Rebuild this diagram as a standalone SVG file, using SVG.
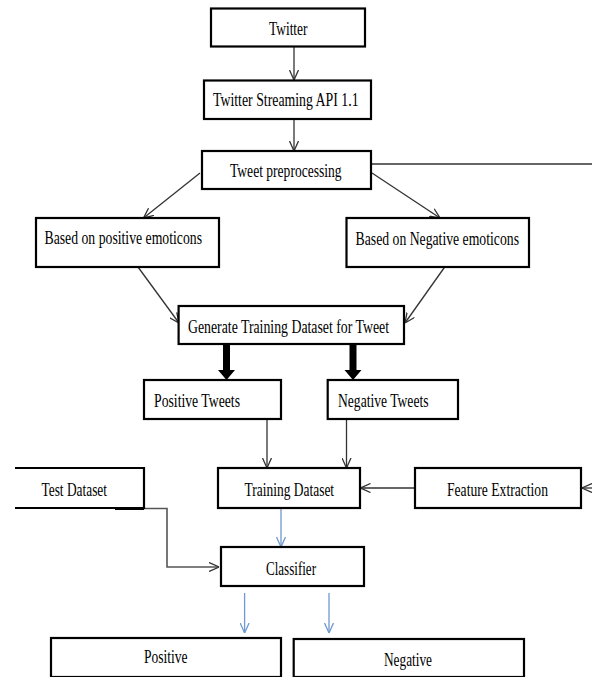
<svg xmlns="http://www.w3.org/2000/svg" width="592" height="677" viewBox="0 0 592 677">
<style>
.box{fill:#fff;stroke:#000;stroke-width:2.2}
.t{font-family:"Liberation Serif","Times New Roman",serif;font-size:18px;fill:#000}
.c{fill:none;stroke:#333;stroke-width:1.3}
.b{fill:none;stroke:#6f98d0;stroke-width:1.3}
</style>
<defs>
<marker id="ah" viewBox="0 0 10 10" refX="10" refY="5" markerWidth="10" markerHeight="10" orient="auto" markerUnits="userSpaceOnUse"><path d="M0,0.5 L10,5 L0,9.5" fill="none" stroke="#333" stroke-width="1.3"/></marker>
<marker id="ahb" viewBox="0 0 10 10" refX="10" refY="5" markerWidth="10" markerHeight="10" orient="auto" markerUnits="userSpaceOnUse"><path d="M0,0.5 L10,5 L0,9.5" fill="none" stroke="#6f98d0" stroke-width="1.3"/></marker>
</defs>
<rect width="592" height="677" fill="#fff"/>
<g id="connectors">
<line class="c" x1="294" y1="47" x2="294" y2="80" marker-end="url(#ah)"/>
<line class="c" x1="294" y1="119" x2="294" y2="151" marker-end="url(#ah)"/>
<line class="c" x1="200" y1="173" x2="143.5" y2="218" marker-end="url(#ah)"/>
<line class="c" x1="372" y1="173" x2="440" y2="218" marker-end="url(#ah)"/>
<line class="c" x1="371" y1="164" x2="592" y2="164"/>
<line class="c" x1="138" y1="267" x2="179" y2="323" marker-end="url(#ah)"/>
<line class="c" x1="444.7" y1="267" x2="405" y2="323" marker-end="url(#ah)"/>
<path d="M223,344 H230 V370 H235 L226.5,380 L218,370 H223 Z" fill="#000"/>
<path d="M349.5,344 H356.5 V370 H361.5 L353,380 L344.5,370 H349.5 Z" fill="#000"/>
<line class="c" x1="267" y1="419" x2="267" y2="468" marker-end="url(#ah)"/>
<line class="c" x1="346.5" y1="419" x2="346.5" y2="468" marker-end="url(#ah)"/>
<line class="c" x1="417" y1="488" x2="360.5" y2="488" marker-end="url(#ah)"/>
<line class="c" x1="592" y1="488" x2="582" y2="488" marker-end="url(#ah)"/>
<path d="M115,508.5 H167 V567 H219" fill="none" stroke="#555" stroke-width="1.6" marker-end="url(#ah)"/>
<line class="b" x1="281" y1="508" x2="281" y2="547" marker-end="url(#ahb)"/>
<line class="b" x1="244.6" y1="593" x2="244.6" y2="633" marker-end="url(#ahb)"/>
<line class="b" x1="329" y1="593" x2="329" y2="633" marker-end="url(#ahb)"/>
</g>
<g id="twitter"><rect class="box" x="211" y="8.5" width="154" height="38"/><text class="t" x="269" y="35" textLength="38.5" lengthAdjust="spacingAndGlyphs">Twitter</text></g>
<g id="streaming"><rect class="box" x="204" y="80.5" width="167" height="38.5"/><text class="t" x="213" y="106" textLength="145.6" lengthAdjust="spacingAndGlyphs">Twitter Streaming API 1.1</text></g>
<g id="preprocessing"><rect class="box" x="202" y="151" width="169" height="38"/><text class="t" x="230" y="177" textLength="111.6" lengthAdjust="spacingAndGlyphs">Tweet preprocessing</text></g>
<g id="pos-emoticons"><rect class="box" x="36" y="218" width="183" height="49"/><text class="t" x="44.5" y="244" textLength="157.5" lengthAdjust="spacingAndGlyphs">Based on positive emoticons</text></g>
<g id="neg-emoticons"><rect class="box" x="346.5" y="218" width="182.5" height="49"/><text class="t" x="355.6" y="245" textLength="163.4" lengthAdjust="spacingAndGlyphs">Based on Negative emoticons</text></g>
<g id="generate"><rect class="box" x="178.6" y="306" width="225.4" height="38"/><text class="t" x="188" y="332.5" textLength="201" lengthAdjust="spacingAndGlyphs">Generate Training Dataset for Tweet</text></g>
<g id="pos-tweets"><rect class="box" x="144" y="380" width="137" height="39"/><text class="t" x="154" y="407" textLength="86" lengthAdjust="spacingAndGlyphs">Positive Tweets</text></g>
<g id="neg-tweets"><rect class="box" x="327.7" y="380" width="130.3" height="39"/><text class="t" x="338" y="407" textLength="90.5" lengthAdjust="spacingAndGlyphs">Negative Tweets</text></g>
<g id="test-dataset"><path d="M15,468 H144 V508 H15" fill="none" stroke="#000" stroke-width="2.2"/><line x1="115" y1="508.5" x2="144" y2="508.5" stroke="#000" stroke-width="3"/><text class="t" x="41.5" y="496" textLength="65.5" lengthAdjust="spacingAndGlyphs">Test Dataset</text></g>
<g id="training-dataset"><rect class="box" x="218" y="468" width="142" height="40"/><text class="t" x="244.6" y="496" textLength="89.5" lengthAdjust="spacingAndGlyphs">Training Dataset</text></g>
<g id="feature-extraction"><rect class="box" x="415" y="468" width="166" height="40"/><text class="t" x="447" y="496" textLength="101" lengthAdjust="spacingAndGlyphs">Feature Extraction</text></g>
<g id="classifier"><rect class="box" x="221" y="547" width="143" height="39"/><text class="t" x="266" y="575" textLength="50" lengthAdjust="spacingAndGlyphs">Classifier</text></g>
<g id="positive"><rect class="box" x="51" y="638" width="230" height="39"/><text class="t" x="144" y="663" textLength="43.6" lengthAdjust="spacingAndGlyphs">Positive</text></g>
<g id="negative"><rect class="box" x="293.7" y="639" width="230.3" height="38"/><text class="t" x="384" y="666" textLength="48" lengthAdjust="spacingAndGlyphs">Negative</text></g>
</svg>
